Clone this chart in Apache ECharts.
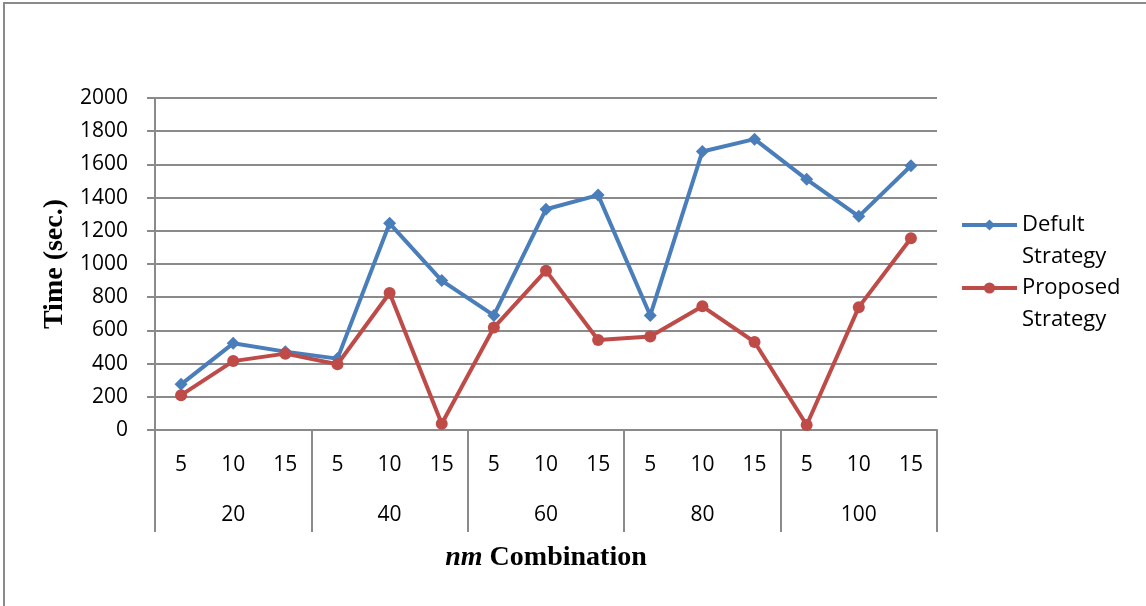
<!DOCTYPE html>
<html>
<head>
<meta charset="utf-8">
<script src="https://cdn.jsdelivr.net/npm/echarts@6/dist/echarts.min.js"></script>
<style>
  html, body { margin: 0; padding: 0; background: #fff; }
  #chart { width: 1146px; height: 606px; }
</style>
</head>
<body>
<div id="chart"></div>
<script>
// n groups (outer axis level) and m values inside each group (inner level)
const nGroups = ['20', '40', '60', '80', '100'];
const mValues = ['5', '10', '15'];
const yTicks = [0, 200, 400, 600, 800, 1000, 1200, 1400, 1600, 1800, 2000];

// Execution time in seconds for each (n, m) pair, in group order
const defultStrategy = [275, 522, 472, 430, 1245, 900, 690, 1330, 1415, 690, 1678, 1752, 1510, 1287, 1592];
const proposedStrategy = [210, 415, 460, 396, 825, 38, 617, 960, 542, 563, 745, 530, 30, 740, 1155];

const categories = [];
nGroups.forEach(n => mValues.forEach(m => categories.push(n + '-' + m)));

const axisGrey = '#8a8a8a';
const tickFont = 'Open Sans';
const titleFont = '"Liberation Serif", "Times New Roman", serif';

const chart = echarts.init(document.getElementById('chart'), null, { renderer: 'canvas' });

chart.setOption({
  backgroundColor: '#ffffff',
  animation: false,
  graphic: [{
    type: 'rect',
    shape: { x: 4, y: 3, width: 1300, height: 800 },
    style: { fill: 'none', stroke: axisGrey, lineWidth: 2 },
    silent: true
  }],
  grid: { left: 155, right: 209, top: 98, bottom: 176 },
  legend: {
    orient: 'vertical',
    left: 960,
    top: 177,
    padding: 0,
    itemWidth: 55,
    itemHeight: 14,
    itemGap: -33,
    lineStyle: { width: 4 },
    // leading blank line keeps the first word level with the icon
    formatter: name => '\n' + name,
    textStyle: {
      fontFamily: tickFont,
      fontSize: 22,
      color: '#000',
      lineHeight: 32
    },
    data: ['Defult\nStrategy', 'Proposed\nStrategy']
  },
  xAxis: [{
    type: 'category',
    data: categories,
    boundaryGap: true,
    axisLine: { show: true, lineStyle: { color: axisGrey, width: 2 } },
    axisTick: { show: false },
    axisLabel: {
      interval: 0,
      margin: 25,
      fontFamily: tickFont,
      fontSize: 21,
      color: '#000',
      formatter: v => v.split('-')[1]
    },
    splitLine: { show: false }
  }, {
    type: 'category',
    data: nGroups,
    position: 'bottom',
    boundaryGap: true,
    axisLine: { show: false },
    axisTick: { show: true, inside: false, length: 102, lineStyle: { color: axisGrey, width: 2 } },
    axisLabel: {
      interval: 0,
      margin: 75,
      fontFamily: tickFont,
      fontSize: 21,
      color: '#000'
    },
    splitLine: { show: false },
    name: '{i|nm} Combination',
    nameLocation: 'middle',
    nameGap: 114,
    nameTextStyle: {
      fontFamily: titleFont,
      fontWeight: 'bold',
      fontSize: 28,
      color: '#000',
      rich: {
        i: { fontFamily: titleFont, fontWeight: 'bold', fontStyle: 'italic', fontSize: 28, color: '#000' }
      }
    }
  }],
  yAxis: {
    type: 'value',
    min: yTicks[0],
    max: yTicks[yTicks.length - 1],
    interval: yTicks[1] - yTicks[0],
    axisLine: { show: true, lineStyle: { color: axisGrey, width: 2 } },
    axisTick: { show: true, inside: false, length: 8, lineStyle: { color: axisGrey, width: 2 } },
    axisLabel: {
      margin: 27,
      fontFamily: tickFont,
      fontSize: 21,
      color: '#000',
      formatter: v => String(v)
    },
    splitLine: { show: true, lineStyle: { color: axisGrey, width: 2 } },
    name: 'Time (sec.)',
    nameLocation: 'middle',
    nameGap: 80,
    nameTextStyle: {
      fontFamily: titleFont,
      fontWeight: 'bold',
      fontSize: 28,
      color: '#000'
    }
  },
  series: [{
    name: 'Defult\nStrategy',
    type: 'line',
    xAxisIndex: 0,
    data: defultStrategy,
    symbol: 'diamond',
    symbolSize: 13,
    lineStyle: { color: '#4A7EBB', width: 4 },
    itemStyle: { color: '#4A7EBB' },
    z: 3
  }, {
    name: 'Proposed\nStrategy',
    type: 'line',
    xAxisIndex: 0,
    data: proposedStrategy,
    symbol: 'circle',
    symbolSize: 12,
    lineStyle: { color: '#BE4B48', width: 4 },
    itemStyle: { color: '#BE4B48' },
    z: 4
  }]
});
</script>
</body>
</html>
